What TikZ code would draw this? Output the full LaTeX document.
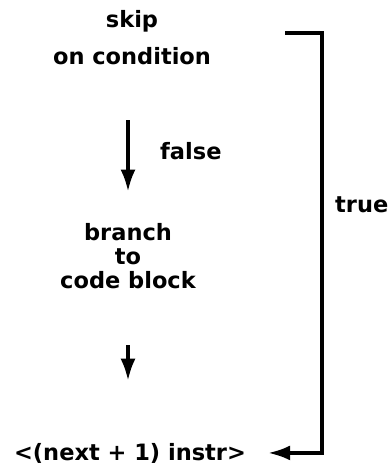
\documentclass[tikz,border=0pt]{standalone}
\usepackage{fontspec}
\setmainfont{DejaVu Sans}
\usetikzlibrary{arrows.meta}

\newlength{\du}
\setlength{\du}{1pt}

\tikzset{
  lbl/.style={font=\bfseries\fontsize{22.5}{24}\selectfont, align=center, inner sep=0pt},
  flow/.style={line width=3.5\du, line join=miter, -{Latex[length=22pt,width=15pt]}}
}

\begin{document}
\begin{tikzpicture}
\pgftransformxscale{1.000000}
\pgftransformyscale{-1.000000}
\useasboundingbox (0\du,0\du) rectangle (391\du,470\du);
% setfont left to latex
\node[lbl] (skip) at (132.000000\du,38.000000\du){skip\\[13\du]on condition};
\node[lbl, anchor=base west] (false) at (160.000000\du,160.000000\du){false};
\node[lbl] (branch) at (128.000000\du,256.500000\du){branch\\to\\code block};
\node[lbl, anchor=base west] (true) at (335.000000\du,212.000000\du){true};
\node[lbl, anchor=base] (next) at (130.000000\du,460.000000\du){<(next + 1) instr>};
\coordinate (trueTop) at (285.000000\du,33.000000\du);
% was here!!!
\draw[flow, shorten <=55\du, shorten >=32\du] (skip.south -| branch) -- (branch);
\draw[flow, shorten <=56\du, shorten >=62\du] (branch) -- (next.north -| branch);
\draw[flow, shorten >=22\du] (trueTop) -- ++(37\du,0) |- (next.east);
\end{tikzpicture}
\end{document}
